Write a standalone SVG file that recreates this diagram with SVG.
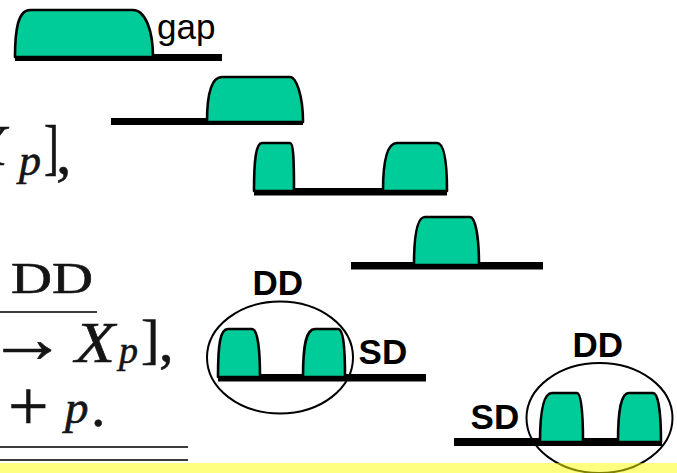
<svg xmlns="http://www.w3.org/2000/svg" width="677" height="473" viewBox="0 0 677 473">
<style>
.pulse{fill:#00CC99;stroke:#000;stroke-width:2.6;stroke-linejoin:round}
.base{fill:#000}
.ell{fill:none;stroke:#000;stroke-width:2}
.lbl{font-family:"Liberation Sans",Arial,sans-serif;font-weight:bold;font-size:35px;fill:#000}
.gap{font-family:"Liberation Sans",Arial,sans-serif;font-size:35px;fill:#000}
.m{font-family:"Liberation Serif","Times New Roman",serif;fill:#151515;stroke:#151515;stroke-width:0.6}
.mi{font-style:italic}
.rule{fill:#3c3c3c}
</style>
<rect width="677" height="473" fill="#fff"/>

<g id="math">
  <text class="m mi" x="-27" y="165" font-size="56">X</text>
  <text class="m mi" x="19" y="175" font-size="44">p</text>
  <text class="m" x="44" y="167.5" font-size="62" textLength="15" lengthAdjust="spacingAndGlyphs">]</text>
  <text class="m" x="56" y="173" font-size="62">,</text>

  <text class="m" x="11" y="293" font-size="44" textLength="82" lengthAdjust="spacingAndGlyphs">DD</text>
  <rect class="rule" x="0" y="311" width="97" height="2"/>
  <text class="m" x="-12.5" y="362" font-size="70" textLength="80" lengthAdjust="spacingAndGlyphs">→</text>
  <text class="m mi" x="75" y="362" font-size="58" textLength="40" lengthAdjust="spacingAndGlyphs">X</text>
  <text class="m mi" x="119" y="363" font-size="38">p</text>
  <text class="m" x="141" y="358.4" font-size="55">]</text>
  <text class="m" x="159" y="360.5" font-size="58">,</text>

  <text class="m" x="8" y="430" font-size="72">+</text>
  <text class="m mi" x="65" y="423" font-size="47">p</text>
  <text class="m" x="91" y="426" font-size="58">.</text>
  <rect class="rule" x="0" y="446" width="188" height="2"/>
  <rect class="rule" x="0" y="459" width="188" height="2"/>
</g>

<g id="row1">
  <rect class="base" x="15" y="54" width="207" height="7"/>
  <path class="pulse" d="M15,57 C15,30 18,10 30,10 L133,10 C145,10 153,30 153,57 Z"/>
  <text class="gap" x="157" y="39">gap</text>
</g>

<g id="row2">
  <rect class="base" x="111" y="118" width="192" height="7"/>
  <path class="pulse" d="M207,122 C207,95 211,77 222,77 L290,77 C296,77 303,95 303,122 Z"/>
</g>

<g id="row3">
  <rect class="base" x="254" y="188" width="193" height="7.5"/>
  <path class="pulse" d="M254,191 C254,160 256,143 262,143 L290,143 C293,143 294,155 294,191 Z"/>
  <path class="pulse" d="M383,191 C383,160 387,143 397,143 L437,143 C444,143 447,160 447,191 Z"/>
</g>

<g id="row4">
  <rect class="base" x="351" y="262" width="192" height="7.5"/>
  <path class="pulse" d="M414,265 C414,235 417,217 425,217 L470,217 C475,217 479,235 479,265 Z"/>
</g>

<g id="row5">
  <rect class="base" x="218" y="374" width="208" height="7.5"/>
  <path class="pulse" d="M218,377 C218,345 220,329 228,329 L252,329 C257,329 260,345 260,377 Z"/>
  <path class="pulse" d="M303,377 C303,345 306,329 315,329 L338,329 C343,329 345,345 345,377 Z"/>
  <ellipse class="ell" cx="280" cy="357.5" rx="73" ry="56"/>
  <text class="lbl" x="252.5" y="295">DD</text>
  <text class="lbl" x="358.6" y="364">SD</text>
</g>

<g id="row6">
  <rect class="base" x="454" y="438" width="208" height="8"/>
  <path class="pulse" d="M540,442 C540,410 544,393 552,393 L577,393 C581,393 583,410 583,442 Z"/>
  <path class="pulse" d="M618,442 C618,410 621,393 629,393 L653,393 C658,393 661,410 661,442 Z"/>
  <ellipse class="ell" cx="599.5" cy="418" rx="73" ry="55"/>
  <text class="lbl" x="470.6" y="429">SD</text>
  <text class="lbl" x="572.5" y="357">DD</text>
</g>

<rect id="band" x="0" y="463" width="677" height="10" fill="#FFFF00" fill-opacity="0.5"/>
</svg>
